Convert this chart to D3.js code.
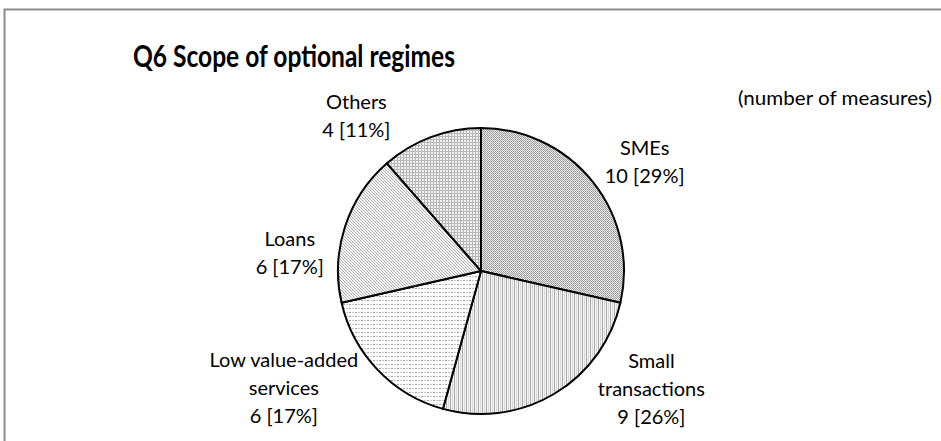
<!DOCTYPE html>
<html>
  <head>
    <meta charset="UTF-8">
    <title>Q6 Scope of optional regimes</title>
    <style>
      * { margin: 0; padding: 0; overflow: hidden; }
      body { background: #fff; }
      text { font-family: Lato, "Open Sans", sans-serif; fill: #000; }
    </style>
    <script src="https://d3js.org/d3.v7.min.js"></script>
  </head>
  <body>
    <script type="text/javascript">
      // データ
      const categories = ["SMEs", "Small transactions", "Low value-added services", "Loans", "Others"];
      const values = [10, 9, 6, 6, 4];
      const percents = ["29%", "26%", "17%", "17%", "11%"];
      // ラベルの改行
      const labelLines = [["SMEs"], ["Small", "transactions"], ["Low value-added", "services"], ["Loans"], ["Others"]];

      const WIDTH = 941;
      const HEIGHT = 441;
      const RADIUS = 143;
      const CX = 481, CY = 271;
      const LINE_H = 28;

      // label placement (angle in degrees from 12 o'clock, distance from centre)
      const labelPolar = [[56.6, 196], [125, 208], [239, 230], [275, 192], [321, 198]];
      const patternIds = ["pSme", "pSmall", "pLow", "pLoans", "pOther"];

      const svg = d3.select("body").append("svg")
        .attr("width", WIDTH)
        .attr("height", HEIGHT);

      // frame
      svg.append("rect")
        .attr("x", 4.5).attr("y", 9.5)
        .attr("width", WIDTH + 10).attr("height", HEIGHT + 10)
        .attr("fill", "#fff")
        .attr("stroke", "#8c8c8c")
        .attr("stroke-width", 2);

      const defs = svg.append("defs");

      // SMEs: fine checker
      let p = defs.append("pattern").attr("id", "pSme")
        .attr("patternUnits", "userSpaceOnUse").attr("width", 2).attr("height", 2);
      p.append("rect").attr("width", 2).attr("height", 2).attr("fill", "#e4e4e4");
      p.append("rect").attr("width", 1).attr("height", 1).attr("fill", "#9c9c9c");
      p.append("rect").attr("x", 1).attr("y", 1).attr("width", 1).attr("height", 1).attr("fill", "#a8a8a8");

      // Small transactions: vertical lines
      p = defs.append("pattern").attr("id", "pSmall")
        .attr("patternUnits", "userSpaceOnUse").attr("width", 4).attr("height", 4);
      p.append("rect").attr("width", 4).attr("height", 4).attr("fill", "#f4f4f4");
      p.append("rect").attr("x", 1).attr("width", 1).attr("height", 4).attr("fill", "#a8a8a8");
      p.append("rect").attr("x", 3).attr("width", 1).attr("height", 4).attr("fill", "#d8d8d8");

      // Low value-added services: dashed horizontal lines
      p = defs.append("pattern").attr("id", "pLow")
        .attr("patternUnits", "userSpaceOnUse").attr("width", 6).attr("height", 4);
      p.append("rect").attr("width", 6).attr("height", 4).attr("fill", "#fff");
      p.append("rect").attr("x", 0).attr("y", 1).attr("width", 2).attr("height", 1).attr("fill", "#a0a0a0");
      p.append("rect").attr("x", 3).attr("y", 1).attr("width", 2).attr("height", 1).attr("fill", "#c8c8c8");

      // Loans: diagonal lines
      p = defs.append("pattern").attr("id", "pLoans")
        .attr("patternUnits", "userSpaceOnUse").attr("width", 3).attr("height", 3);
      p.append("rect").attr("width", 3).attr("height", 3).attr("fill", "#f4f4f4");
      p.append("rect").attr("x", 0).attr("y", 0).attr("width", 1).attr("height", 1).attr("fill", "#b4b4b4");
      p.append("rect").attr("x", 1).attr("y", 1).attr("width", 1).attr("height", 1).attr("fill", "#b4b4b4");
      p.append("rect").attr("x", 2).attr("y", 2).attr("width", 1).attr("height", 1).attr("fill", "#b4b4b4");

      // Others: grid
      p = defs.append("pattern").attr("id", "pOther")
        .attr("patternUnits", "userSpaceOnUse").attr("width", 3).attr("height", 3);
      p.append("rect").attr("width", 3).attr("height", 3).attr("fill", "#f0f0f0");
      p.append("rect").attr("x", 0).attr("width", 1).attr("height", 3).attr("fill", "#b8b8b8");
      p.append("rect").attr("y", 0).attr("width", 3).attr("height", 1).attr("fill", "#b8b8b8");

      // title
      svg.append("text")
        .attr("x", 294).attr("y", 67)
        .attr("text-anchor", "middle")
        .attr("font-size", "30px")
        .attr("font-weight", "bold")
        .attr("textLength", 322)
        .attr("lengthAdjust", "spacingAndGlyphs")
        .text("Q6 Scope of optional regimes");

      svg.append("text")
        .attr("x", 932).attr("y", 105)
        .attr("text-anchor", "end")
        .attr("font-size", "20px")
        .attr("textLength", 194)
        .attr("lengthAdjust", "spacingAndGlyphs")
        .text("(number of measures)");

      const dataSet = categories.map((c, i) => ({ name: c, value: values[i], pct: percents[i], lines: labelLines[i] }));

      const g = svg.append("g").attr("transform", `translate(${CX}, ${CY})`);

      const pie = d3.pie().value((d) => d.value).sort(null);
      const arc = d3.arc().outerRadius(RADIUS).innerRadius(0);

      const slices = pie(dataSet);

      g.selectAll(".pie")
        .data(slices)
        .enter()
        .append("path")
        .attr("class", "pie")
        .attr("d", arc)
        .attr("fill", (d) => `url(#${patternIds[d.index]})`)
        .attr("stroke", "#000")
        .attr("stroke-width", 2)
        .attr("stroke-linejoin", "round");

      const labels = g.selectAll(".label")
        .data(slices)
        .enter()
        .append("text")
        .attr("class", "label")
        .attr("text-anchor", "middle")
        .attr("font-size", "20px")
        .attr("transform", (d) => {
          const [deg, r] = labelPolar[d.index];
          const a = deg * Math.PI / 180;
          const n = d.data.lines.length + 1;
          const x = r * Math.sin(a);
          const y = -r * Math.cos(a) - (n - 1) * LINE_H / 2 + 6;
          return `translate(${x}, ${y})`;
        });

      labels.each(function (d) {
        const t = d3.select(this);
        const rows = d.data.lines.concat([`${d.data.value} [${d.data.pct}]`]);
        rows.forEach((row, i) => {
          t.append("tspan").attr("x", 0).attr("dy", i === 0 ? 0 : LINE_H).text(row);
        });
      });
    </script>
  </body>
</html>
